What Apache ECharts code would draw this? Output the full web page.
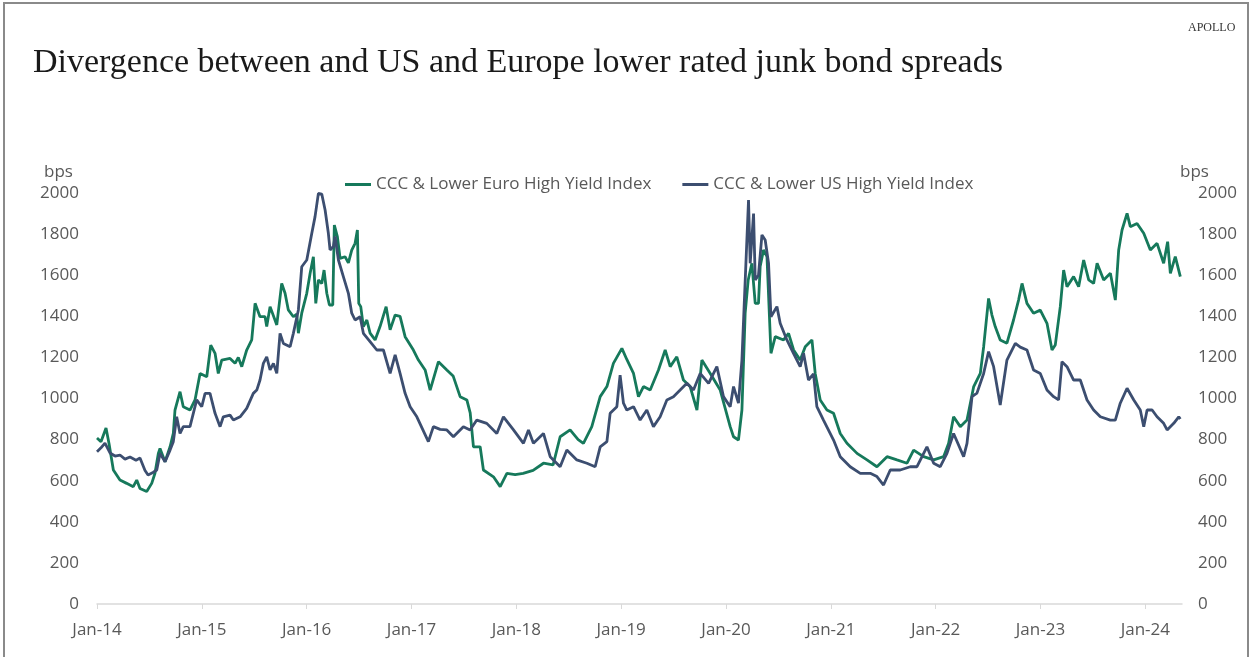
<!DOCTYPE html>
<html>
<head>
<meta charset="utf-8">
<title>Divergence between US and Europe junk bond spreads</title>
<script src="https://cdn.jsdelivr.net/npm/echarts@6/dist/echarts.min.js"></script>
<style>
  html, body { margin: 0; padding: 0; background: #ffffff; }
  #chart { width: 1250px; height: 657px; }
</style>
</head>
<body>
<div id="chart"></div>
<script>
// CCC & lower euro high yield spread, bps (time in decimal years)
const euroYears = [
  2014.000, 2014.038, 2014.086, 2014.115, 2014.156, 2014.219, 2014.283, 2014.346, 2014.379, 2014.410,
  2014.474, 2014.522, 2014.553, 2014.585, 2014.601, 2014.649, 2014.697, 2014.728, 2014.744, 2014.760,
  2014.792, 2014.823, 2014.887, 2014.935, 2014.983, 2015.047, 2015.085, 2015.126, 2015.157, 2015.190,
  2015.269, 2015.317, 2015.348, 2015.381, 2015.428, 2015.476, 2015.508, 2015.555, 2015.603, 2015.619,
  2015.651, 2015.715, 2015.762, 2015.794, 2015.825, 2015.873, 2015.906, 2015.921, 2015.953, 2016.001,
  2016.033, 2016.064, 2016.087, 2016.112, 2016.144, 2016.166, 2016.192, 2016.217, 2016.249, 2016.264,
  2016.293, 2016.319, 2016.366, 2016.398, 2016.430, 2016.462, 2016.484, 2016.497, 2016.516, 2016.541,
  2016.574, 2016.605, 2016.653, 2016.700, 2016.758, 2016.796, 2016.844, 2016.891, 2016.939, 2017.018,
  2017.066, 2017.130, 2017.178, 2017.257, 2017.337, 2017.397, 2017.464, 2017.528, 2017.560, 2017.591,
  2017.655, 2017.686, 2017.782, 2017.846, 2017.910, 2017.989, 2018.065, 2018.160, 2018.259, 2018.351,
  2018.418, 2018.513, 2018.590, 2018.640, 2018.720, 2018.800, 2018.864, 2018.926, 2019.007, 2019.054,
  2019.118, 2019.165, 2019.213, 2019.277, 2019.356, 2019.420, 2019.468, 2019.531, 2019.594, 2019.658,
  2019.723, 2019.770, 2019.850, 2019.945, 2020.040, 2020.072, 2020.119, 2020.152, 2020.183, 2020.212,
  2020.247, 2020.279, 2020.310, 2020.326, 2020.358, 2020.391, 2020.429, 2020.470, 2020.549, 2020.597,
  2020.645, 2020.708, 2020.756, 2020.820, 2020.851, 2020.899, 2020.963, 2021.026, 2021.090, 2021.154,
  2021.250, 2021.345, 2021.440, 2021.536, 2021.631, 2021.727, 2021.790, 2021.885, 2021.981, 2022.076,
  2022.124, 2022.171, 2022.235, 2022.299, 2022.363, 2022.426, 2022.458, 2022.505, 2022.537, 2022.569,
  2022.616, 2022.680, 2022.743, 2022.791, 2022.824, 2022.871, 2022.934, 2022.998, 2023.062, 2023.110,
  2023.141, 2023.189, 2023.221, 2023.253, 2023.316, 2023.364, 2023.412, 2023.460, 2023.507, 2023.540,
  2023.603, 2023.667, 2023.714, 2023.746, 2023.778, 2023.826, 2023.857, 2023.921, 2023.985, 2024.048,
  2024.112, 2024.175, 2024.213, 2024.239, 2024.286, 2024.334
];
const euroBps = [
  808, 790, 856, 780, 652, 603, 587, 571, 603, 562,
  547, 587, 636, 733, 757, 692, 765, 830, 944, 950,
  1033, 960, 944, 993, 1122, 1106, 1260, 1220, 1122, 1187,
  1195, 1171, 1200, 1155, 1236, 1285, 1463, 1398, 1398, 1350,
  1447, 1358, 1560, 1512, 1431, 1398, 1410, 1318, 1415, 1512,
  1609, 1690, 1463, 1577, 1560, 1625, 1512, 1455, 1455, 1844,
  1788, 1682, 1690, 1660, 1722, 1755, 1820, 1463, 1447, 1350,
  1382, 1318, 1285, 1350, 1447, 1334, 1406, 1400, 1301, 1236,
  1187, 1139, 1041, 1179, 1139, 1110, 1009, 993, 930, 765,
  765, 652, 619, 571, 636, 630, 636, 650, 685, 677,
  814, 847, 800, 782, 863, 1009, 1058, 1171, 1244, 1190,
  1122, 1009, 1058, 1041, 1139, 1236, 1155, 1203, 1090, 1058,
  944, 1187, 1122, 1041, 863, 814, 798, 944, 1415, 1577,
  1658, 1463, 1463, 1642, 1723, 1690, 1220, 1301, 1285, 1317,
  1236, 1187, 1252, 1285, 1122, 993, 944, 928, 830, 782,
  733, 701, 668, 717, 701, 685, 749, 717, 701, 717,
  782, 911, 863, 895, 1058, 1122, 1252, 1487, 1406, 1349,
  1285, 1269, 1382, 1479, 1560, 1463, 1415, 1430, 1366, 1236,
  1260, 1447, 1625, 1544, 1593, 1544, 1674, 1577, 1560, 1658,
  1577, 1609, 1479, 1723, 1820, 1901, 1836, 1852, 1804, 1723,
  1755, 1658, 1763, 1609, 1690, 1593
];

// CCC & lower US high yield spread, bps (time in decimal years)
const usYears = [
  2014.000, 2014.038, 2014.076, 2014.124, 2014.172, 2014.219, 2014.267, 2014.315, 2014.372, 2014.410,
  2014.458, 2014.487, 2014.534, 2014.570, 2014.601, 2014.649, 2014.697, 2014.728, 2014.760, 2014.792,
  2014.823, 2014.887, 2014.951, 2014.999, 2015.031, 2015.078, 2015.126, 2015.174, 2015.205, 2015.269,
  2015.301, 2015.365, 2015.428, 2015.491, 2015.524, 2015.555, 2015.587, 2015.619, 2015.651, 2015.683,
  2015.715, 2015.746, 2015.778, 2015.842, 2015.873, 2015.921, 2015.953, 2016.001, 2016.049, 2016.080,
  2016.112, 2016.144, 2016.176, 2016.207, 2016.223, 2016.255, 2016.271, 2016.303, 2016.350, 2016.398,
  2016.430, 2016.462, 2016.510, 2016.541, 2016.605, 2016.669, 2016.732, 2016.796, 2016.844, 2016.891,
  2016.939, 2016.987, 2017.051, 2017.161, 2017.209, 2017.273, 2017.337, 2017.400, 2017.495, 2017.559,
  2017.623, 2017.718, 2017.814, 2017.877, 2017.973, 2018.068, 2018.116, 2018.163, 2018.259, 2018.323,
  2018.418, 2018.482, 2018.577, 2018.673, 2018.752, 2018.800, 2018.864, 2018.895, 2018.959, 2018.990,
  2019.022, 2019.054, 2019.118, 2019.181, 2019.245, 2019.308, 2019.372, 2019.436, 2019.499, 2019.563,
  2019.627, 2019.690, 2019.754, 2019.834, 2019.913, 2019.976, 2020.040, 2020.072, 2020.119, 2020.152,
  2020.215, 2020.231, 2020.263, 2020.279, 2020.310, 2020.343, 2020.374, 2020.406, 2020.429, 2020.486,
  2020.517, 2020.581, 2020.644, 2020.708, 2020.740, 2020.787, 2020.835, 2020.867, 2020.930, 2021.026,
  2021.090, 2021.185, 2021.281, 2021.376, 2021.440, 2021.503, 2021.567, 2021.662, 2021.758, 2021.822,
  2021.917, 2021.981, 2022.044, 2022.108, 2022.171, 2022.267, 2022.299, 2022.347, 2022.394, 2022.458,
  2022.505, 2022.553, 2022.616, 2022.680, 2022.760, 2022.807, 2022.871, 2022.934, 2022.998, 2023.062,
  2023.125, 2023.173, 2023.205, 2023.253, 2023.316, 2023.380, 2023.444, 2023.507, 2023.571, 2023.666,
  2023.714, 2023.761, 2023.826, 2023.890, 2023.952, 2023.985, 2024.017, 2024.065, 2024.112, 2024.175,
  2024.208, 2024.271, 2024.319, 2024.334
];
const usBps = [
  741, 760, 783, 735, 720, 725, 705, 715, 700, 710,
  650, 628, 640, 652, 733, 692, 749, 790, 911, 830,
  863, 863, 993, 960, 1025, 1025, 928, 863, 911, 919,
  895, 911, 952, 1025, 1041, 1090, 1171, 1203, 1139, 1171,
  1122, 1317, 1268, 1252, 1317, 1431, 1641, 1674, 1804, 1885,
  1998, 1995, 1917, 1804, 1723, 1740, 1788, 1674, 1593, 1512,
  1415, 1382, 1398, 1317, 1277, 1236, 1236, 1122, 1212, 1122,
  1025, 960, 911, 790, 863, 850, 847, 814, 863, 847,
  895, 879, 830, 911, 847, 782, 847, 782, 830, 717,
  668, 749, 701, 685, 668, 765, 790, 928, 960, 1114,
  977, 944, 960, 895, 944, 863, 911, 993, 1009, 1041,
  1074, 1041, 1122, 1074, 1155, 1009, 960, 1058, 977, 1187,
  1966, 1658, 1900, 1577, 1600, 1796, 1771, 1658, 1398, 1447,
  1366, 1285, 1220, 1155, 1220, 1090, 1120, 960, 895, 798,
  717, 668, 636, 636, 620, 579, 652, 652, 668, 668,
  765, 685, 668, 733, 830, 717, 782, 1009, 1026, 1122,
  1228, 1155, 968, 1187, 1268, 1250, 1236, 1139, 1122, 1041,
  1009, 993, 1179, 1155, 1090, 1090, 993, 944, 911, 895,
  895, 977, 1050, 993, 944, 863, 944, 944, 911, 879,
  847, 879, 911, 900
];

// Year ticks on the time axis
const yearTicks = [2014, 2015, 2016, 2017, 2018, 2019, 2020, 2021, 2022, 2023, 2024];

const seriesNames = ['CCC & Lower Euro High Yield Index', 'CCC & Lower US High Yield Index'];
const seriesColors = ['#16795b', '#3c4e70'];
const titleText = 'Divergence between and US and Europe lower rated junk bond spreads';

const pairs = (xs, ys) => xs.map((x, i) => [x, ys[i]]);

const labelFont = 'Open Sans';
const grey = '#595959';
const labelSize = 17;

const chart = echarts.init(document.getElementById('chart'), null, { renderer: 'canvas' });

const yAxisCommon = {
  type: 'value',
  min: 0,
  max: 2000,
  interval: 200,
  axisLine: { show: false },
  axisTick: { show: false },
  splitLine: { show: false }
};
const yLabel = margin => ({
  color: grey,
  fontSize: labelSize,
  fontFamily: labelFont,
  margin: margin,
  formatter: v => String(v)
});

chart.setOption({
  animation: false,
  backgroundColor: '#ffffff',
  title: {
    text: titleText,
    left: 28,
    top: 41,
    textStyle: {
      fontFamily: 'Liberation Serif',
      fontWeight: 'normal',
      fontSize: 34,
      color: '#1a1a1a'
    }
  },
  legend: {
    left: 340,
    top: 171,
    itemWidth: 26,
    itemHeight: 3,
    itemGap: 31,
    textStyle: { color: grey, fontSize: labelSize, fontFamily: labelFont },
    data: seriesNames.map(n => ({ name: n, icon: 'rect' }))
  },
  grid: { left: 97, right: 68, top: 193, bottom: 53 },
  xAxis: {
    type: 'value',
    min: 2014,
    max: 2024.35,
    interval: 1,
    splitLine: { show: false },
    axisLine: { show: true, lineStyle: { color: '#d9d9d9', width: 1.5 } },
    axisTick: { show: true, length: 5, lineStyle: { color: '#d9d9d9' }, customValues: yearTicks },
    axisLabel: {
      color: grey,
      fontSize: labelSize,
      fontFamily: labelFont,
      margin: 18,
      customValues: yearTicks,
      formatter: v => 'Jan-' + String(Math.round(v)).slice(2)
    }
  },
  yAxis: [
    Object.assign({}, yAxisCommon, { position: 'left', axisLabel: yLabel(18) }),
    Object.assign({}, yAxisCommon, { position: 'right', axisLabel: yLabel(16) })
  ],
  graphic: [
    {
      type: 'rect',
      shape: { x: 4, y: 3, width: 1244, height: 700 },
      style: { fill: 'none', stroke: '#8a8a8a', lineWidth: 2 },
      silent: true
    },
    {
      type: 'text',
      left: 1188,
      top: 22,
      style: { text: 'APOLLO', fontFamily: 'Liberation Serif', fontSize: 12, fill: '#333333' }
    },
    {
      type: 'text',
      left: 44,
      top: 164,
      style: { text: 'bps', fontFamily: labelFont, fontSize: labelSize, fill: grey }
    },
    {
      type: 'text',
      left: 1180,
      top: 164,
      style: { text: 'bps', fontFamily: labelFont, fontSize: labelSize, fill: grey }
    }
  ],
  series: [
    {
      name: seriesNames[0],
      type: 'line',
      yAxisIndex: 0,
      symbol: 'none',
      data: pairs(euroYears, euroBps),
      lineStyle: { color: seriesColors[0], width: 2.8 },
      itemStyle: { color: seriesColors[0] }
    },
    {
      name: seriesNames[1],
      type: 'line',
      yAxisIndex: 0,
      symbol: 'none',
      data: pairs(usYears, usBps),
      lineStyle: { color: seriesColors[1], width: 2.8 },
      itemStyle: { color: seriesColors[1] }
    }
  ]
});
</script>
</body>
</html>
